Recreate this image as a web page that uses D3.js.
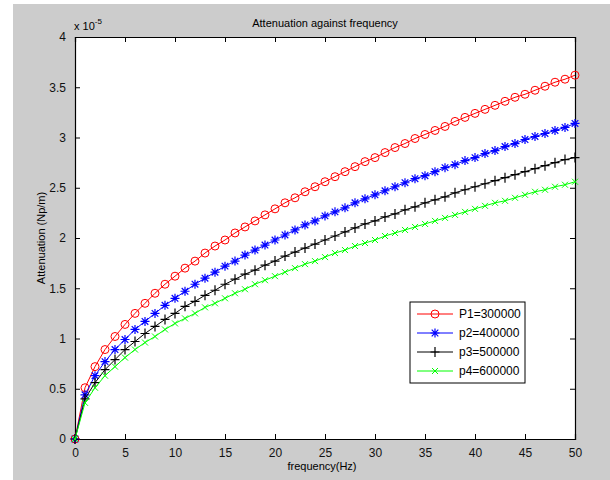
<!DOCTYPE html>
<html>
<head>
<meta charset="utf-8">
<script src="https://cdn.jsdelivr.net/npm/d3@7"></script>
<style>
  body { margin: 0; background: #fff; }
  text { font-family: "Liberation Sans", Arial, sans-serif; }
</style>
</head>
<body>
<svg id="chart" width="610" height="480"></svg>
<script>
const freq = d3.range(0, 51);

// attenuation values (x 1e-5 Np/m)
const p1 = [0, 0.51, 0.72, 0.89, 1.02, 1.14, 1.25, 1.35, 1.45, 1.54, 1.62, 1.70, 1.77, 1.85, 1.92, 1.98,
  2.05, 2.11, 2.17, 2.23, 2.29, 2.35, 2.40, 2.46, 2.51, 2.56, 2.61, 2.66, 2.71, 2.76, 2.80, 2.85, 2.90,
  2.94, 2.99, 3.03, 3.07, 3.11, 3.16, 3.20, 3.24, 3.28, 3.32, 3.36, 3.40, 3.43, 3.47, 3.51, 3.55, 3.58, 3.62];
const p2 = [0, 0.44, 0.63, 0.77, 0.89, 0.99, 1.09, 1.17, 1.25, 1.33, 1.40, 1.47, 1.54, 1.60, 1.66, 1.72,
  1.77, 1.83, 1.88, 1.93, 1.98, 2.03, 2.08, 2.13, 2.17, 2.22, 2.26, 2.30, 2.35, 2.39, 2.43, 2.47, 2.51,
  2.55, 2.59, 2.62, 2.66, 2.70, 2.73, 2.77, 2.80, 2.84, 2.87, 2.91, 2.94, 2.98, 3.01, 3.04, 3.07, 3.10, 3.14];
const p3 = [0, 0.40, 0.56, 0.69, 0.79, 0.89, 0.97, 1.05, 1.12, 1.19, 1.25, 1.32, 1.37, 1.43, 1.48, 1.54,
  1.59, 1.64, 1.68, 1.73, 1.77, 1.82, 1.86, 1.90, 1.94, 1.98, 2.02, 2.06, 2.10, 2.14, 2.17, 2.21, 2.24,
  2.28, 2.31, 2.35, 2.38, 2.41, 2.45, 2.48, 2.51, 2.54, 2.57, 2.60, 2.63, 2.66, 2.69, 2.72, 2.75, 2.78, 2.80];
const p4 = [0, 0.36, 0.51, 0.63, 0.72, 0.81, 0.89, 0.96, 1.02, 1.09, 1.15, 1.20, 1.25, 1.31, 1.35, 1.40,
  1.45, 1.49, 1.54, 1.58, 1.62, 1.66, 1.70, 1.74, 1.77, 1.81, 1.85, 1.88, 1.92, 1.95, 1.98, 2.02, 2.05,
  2.08, 2.11, 2.14, 2.17, 2.20, 2.23, 2.26, 2.29, 2.32, 2.35, 2.37, 2.40, 2.43, 2.46, 2.48, 2.51, 2.53, 2.56];

const seriesNames = ["P1=300000", "p2=400000", "p3=500000", "p4=600000"];
const xTicks = [0, 5, 10, 15, 20, 25, 30, 35, 40, 45, 50];
const yTicks = [0, 0.5, 1, 1.5, 2, 2.5, 3, 3.5, 4];

const series = [
  { name: seriesNames[0], values: p1, color: "#ff0000", marker: "circle" },
  { name: seriesNames[1], values: p2, color: "#0000ff", marker: "star" },
  { name: seriesNames[2], values: p3, color: "#000000", marker: "plus" },
  { name: seriesNames[3], values: p4, color: "#00ff00", marker: "cross" }
];

const svg = d3.select("#chart");
const mLeft = 75, mRight = 575, mTop = 37, mBottom = 439;

// figure background
svg.append("rect").attr("x", 13).attr("y", 4).attr("width", 597).attr("height", 476).attr("fill", "#cccccc");
svg.append("rect").attr("x", mLeft).attr("y", mTop).attr("width", mRight - mLeft).attr("height", mBottom - mTop)
  .attr("fill", "#fff");

const x = d3.scaleLinear().domain([0, 50]).range([mLeft, mRight]);
const y = d3.scaleLinear().domain([0, 4]).range([mBottom, mTop]);

const fmt = d => String(d);

// axes with inward ticks on all sides
svg.append("g").attr("transform", `translate(0,${mBottom})`)
  .call(d3.axisBottom(x).tickValues(xTicks).tickSize(-5).tickPadding(9).tickFormat(fmt));
svg.append("g").attr("transform", `translate(0,${mTop})`)
  .call(d3.axisTop(x).tickValues(xTicks).tickSize(-5).tickFormat(""));
svg.append("g").attr("transform", `translate(${mLeft},0)`)
  .call(d3.axisLeft(y).tickValues(yTicks).tickSize(-5).tickPadding(9).tickFormat(fmt));
svg.append("g").attr("transform", `translate(${mRight},0)`)
  .call(d3.axisRight(y).tickValues(yTicks).tickSize(-5).tickFormat(""));

svg.selectAll(".domain").attr("stroke", "#000").attr("stroke-width", 1.2);
svg.selectAll(".tick line").attr("stroke", "#000");
svg.selectAll(".tick text").attr("font-size", 12).attr("fill", "#111")
  .attr("font-family", "'Liberation Sans', Arial, sans-serif");

function drawMarker(g, type, color) {
  if (type === "circle") {
    g.append("circle").attr("r", 4).attr("fill", "none").attr("stroke", color).attr("stroke-width", 1);
  } else if (type === "star") {
    g.append("path").attr("d", "M-4.5,0H4.5M0,-4.5V4.5M-3.3,-3.3L3.3,3.3M-3.3,3.3L3.3,-3.3")
      .attr("stroke", color).attr("stroke-width", 1.2);
  } else if (type === "plus") {
    g.append("path").attr("d", "M-4.5,0H4.5M0,-5V5").attr("stroke", color).attr("stroke-width", 1.2);
  } else {
    g.append("path").attr("d", "M-3,-3L3,3M-3,3L3,-3").attr("stroke", color).attr("stroke-width", 1);
  }
}

const line = d3.line().x((d, i) => x(freq[i])).y(d => y(d));

series.forEach(s => {
  svg.append("path").datum(s.values).attr("d", line)
    .attr("fill", "none").attr("stroke", s.color).attr("stroke-width", 1);
  svg.append("g").selectAll("g").data(s.values).join("g")
    .attr("transform", (d, i) => `translate(${x(freq[i])},${y(d)})`)
    .each(function () { drawMarker(d3.select(this), s.marker, s.color); });
});

// legend
const lg = svg.append("g");
lg.append("rect").attr("x", 410).attr("y", 302).attr("width", 115).attr("height", 81)
  .attr("fill", "#fff").attr("stroke", "#000").attr("stroke-width", 1);
series.forEach((s, i) => {
  const ly = 314 + i * 19;
  lg.append("line").attr("x1", 417).attr("x2", 453).attr("y1", ly).attr("y2", ly)
    .attr("stroke", s.color).attr("stroke-width", 1);
  const mg = lg.append("g").attr("transform", `translate(435,${ly})`);
  drawMarker(mg, s.marker, s.color);
  lg.append("text").attr("x", 459).attr("y", ly + 4).attr("font-size", 12).text(s.name);
});

// titles
svg.append("text").attr("x", (mLeft + mRight) / 2).attr("y", 27).attr("text-anchor", "middle")
  .attr("font-size", 11).text("Attenuation against frequency");
svg.append("text").attr("x", (mLeft + mRight) / 2 - 3).attr("y", 470).attr("text-anchor", "middle")
  .attr("font-size", 11).text("frequency(Hz)");
svg.append("text").attr("transform", `translate(45,${(mTop + mBottom) / 2}) rotate(-90)`)
  .attr("text-anchor", "middle").attr("font-size", 11).text("Attenuation (Np/m)");

const ex = svg.append("text").attr("x", 74).attr("y", 30).attr("font-size", 11);
ex.append("tspan").text("x 10");
ex.append("tspan").attr("dy", -6).attr("font-size", 8).text("-5");
</script>
</body>
</html>
